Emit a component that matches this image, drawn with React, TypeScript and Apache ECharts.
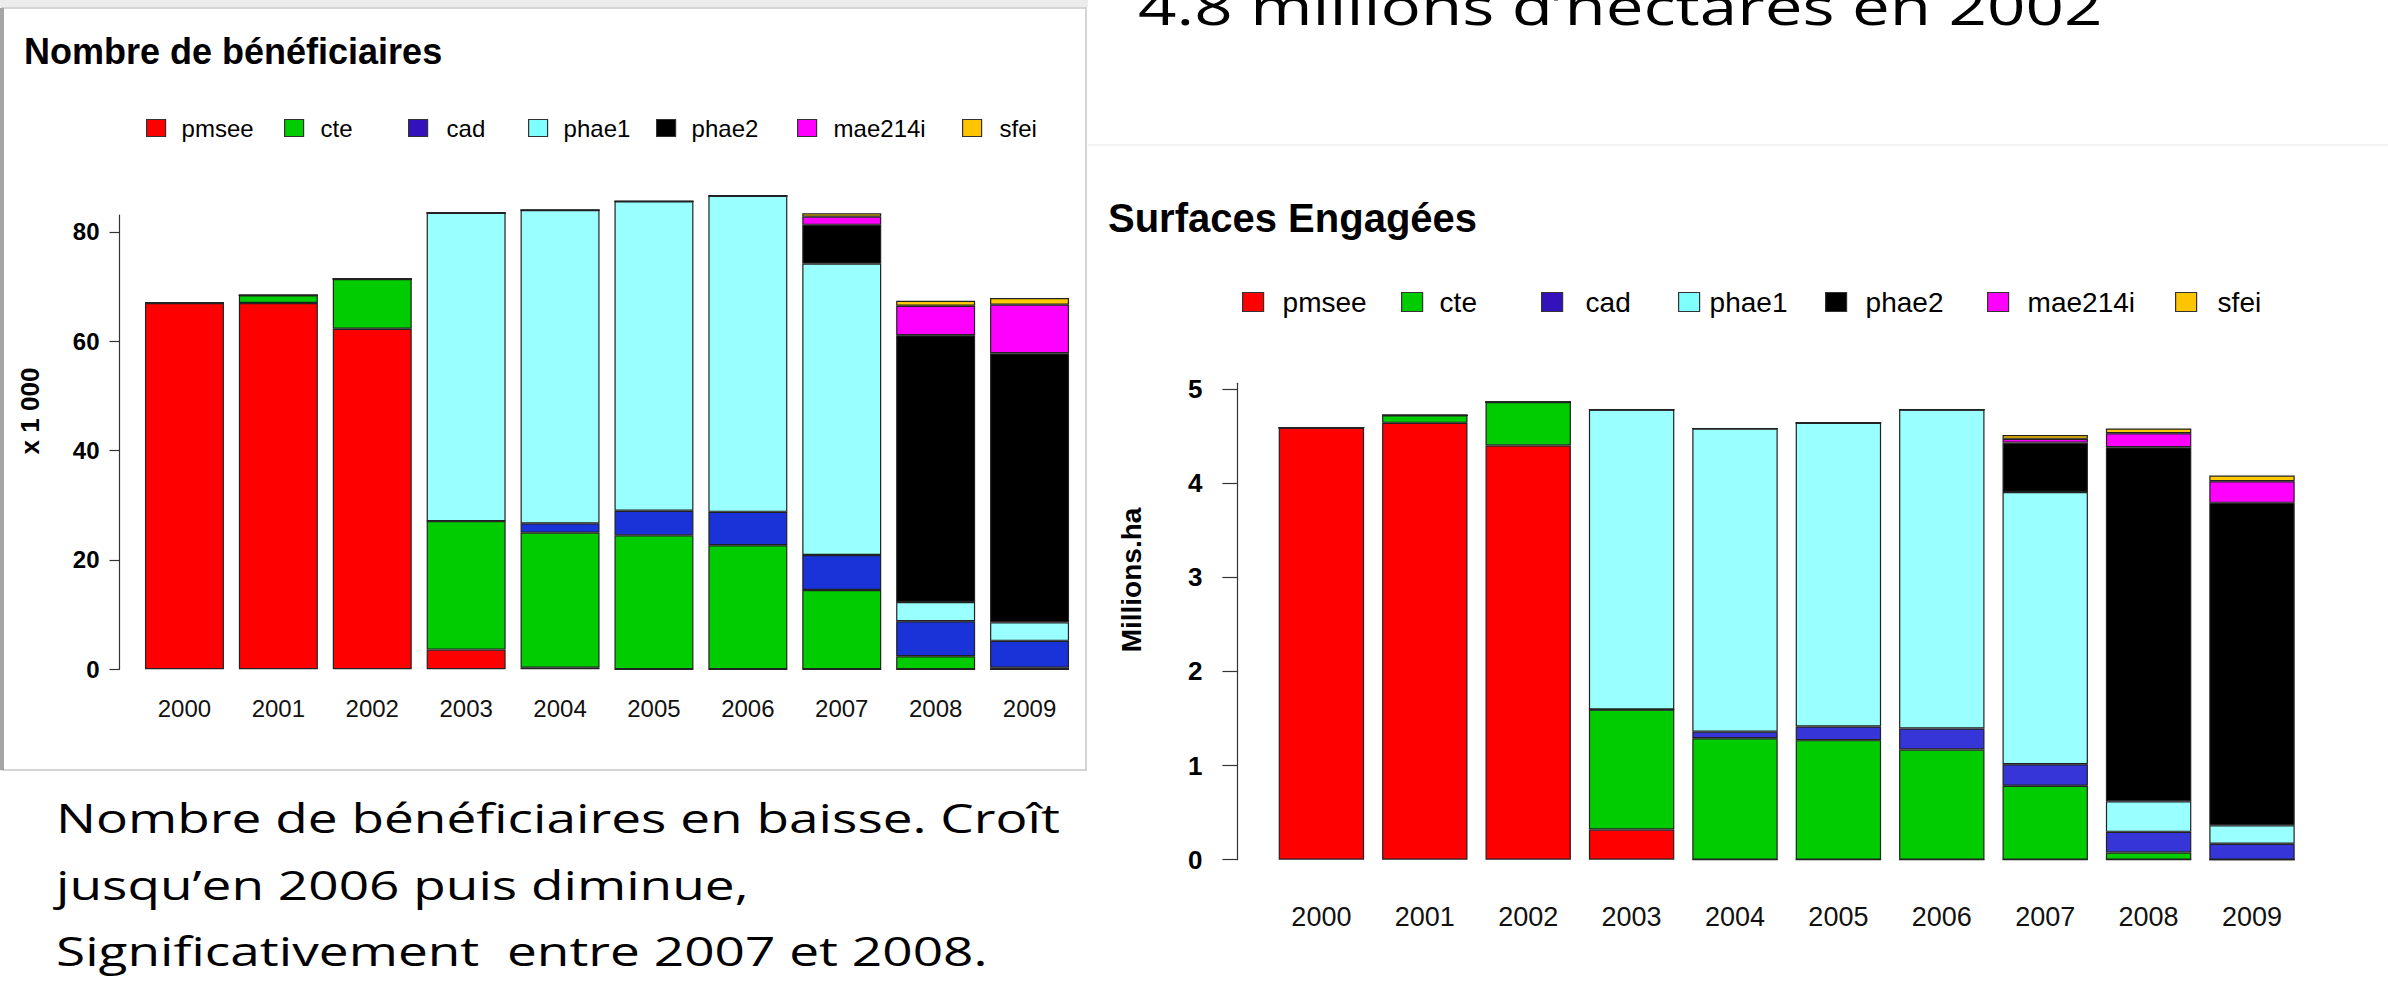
import React, { useEffect, useRef } from 'react';
import * as echarts from 'echarts';

// ---------- DATA ----------
const years = ['2000', '2001', '2002', '2003', '2004', '2005', '2006', '2007', '2008', '2009'];
const schemes = ['pmsee', 'cte', 'cad', 'phae1', 'phae2', 'mae214i', 'sfei'];

// Nombre de bénéficiaires (x 1 000)
const benefPmsee = [67.0, 67.0, 62.3, 3.6, 0.3, 0, 0, 0, 0, 0];
const benefCte = [0, 1.4, 9.1, 23.5, 24.7, 24.5, 22.7, 14.5, 2.4, 0.3];
const benefCad = [0, 0, 0, 0, 1.7, 4.5, 6.1, 6.4, 6.4, 4.9];
const benefPhae1 = [0, 0, 0, 56.4, 57.3, 56.6, 57.8, 53.3, 3.5, 3.4];
const benefPhae2 = [0, 0, 0, 0, 0, 0, 0, 7.1, 48.8, 49.2];
const benefMae214i = [0, 0, 0, 0, 0, 0, 0, 1.5, 5.4, 8.9];
const benefSfei = [0, 0, 0, 0, 0, 0, 0, 0.6, 0.9, 1.2];

// Surfaces engagées (Millions.ha)
const surfPmsee = [4.59, 4.64, 4.4, 0.32, 0, 0, 0, 0, 0, 0];
const surfCte = [0, 0.08, 0.46, 1.275, 1.29, 1.27, 1.17, 0.785, 0.077, 0];
const surfCad = [0, 0, 0, 0, 0.07, 0.145, 0.224, 0.229, 0.219, 0.17];
const surfPhae1 = [0, 0, 0, 3.185, 3.22, 3.225, 3.386, 2.891, 0.324, 0.196];
const surfPhae2 = [0, 0, 0, 0, 0, 0, 0, 0.525, 3.76, 3.424];
const surfMae214i = [0, 0, 0, 0, 0, 0, 0, 0.04, 0.15, 0.23];
const surfSfei = [0, 0, 0, 0, 0, 0, 0, 0.04, 0.05, 0.06];

const benefTicks = [0, 20, 40, 60, 80];
const surfTicks = [0, 1, 2, 3, 4, 5];

const heading = "4.8 millions d\u2019hectares en 2002";
const paragraph = [
  'Nombre de b\u00e9n\u00e9ficiaires en baisse. Cro\u00eet',
  'jusqu\u2019en 2006 puis diminue,',
  'Significativement  entre 2007 et 2008.',
];

// ---------- STYLE ----------
const leftColors = ['#ff0000', '#00cc00', '#1a33d9', '#99ffff', '#000000', '#ff00ff', '#ffc800'];
const rightColors = ['#ff0000', '#00cc00', '#3535d8', '#99ffff', '#000000', '#ff00ff', '#ffc800'];
const legendColors = ['#ff0000', '#00cc00', '#3311bb', '#80ffff', '#000000', '#ff00ff', '#ffc400'];

const leftLegendX = [146, 284, 408, 528, 656, 797, 962];
const leftLegendPad = [11, 12, 14, 11, 11, 12, 13];
const rightLegendX = [1242, 1401, 1541, 1678, 1825, 1987, 2175];
const rightLegendPad = [14, 12, 18, 5, 14, 14, 16];

const SANS = '"Liberation Sans", Arial, sans-serif';
const SLIDE = '"Open Sans", "Noto Sans", sans-serif';

export default function App() {
  const ref = useRef<HTMLDivElement>(null);

  useEffect(() => {
    const chart = echarts.init(ref.current as HTMLDivElement, null, { renderer: 'svg' });

    const benefData = [benefPmsee, benefCte, benefCad, benefPhae1, benefPhae2, benefMae214i, benefSfei];
    const surfData = [surfPmsee, surfCte, surfCad, surfPhae1, surfPhae2, surfMae214i, surfSfei];

    const series: any[] = [];
    schemes.forEach((name, i) => {
      series.push({
        type: 'bar',
        name,
        xAxisIndex: 0,
        yAxisIndex: 0,
        stack: 'benef',
        data: benefData[i],
        barCategoryGap: '15.9%',
        clip: false,
        itemStyle: { color: leftColors[i], borderColor: '#222', borderWidth: 1.2 },
        emphasis: { disabled: true },
      });
    });
    schemes.forEach((name, i) => {
      series.push({
        type: 'bar',
        name,
        xAxisIndex: 1,
        yAxisIndex: 1,
        stack: 'surf',
        data: surfData[i],
        barCategoryGap: '17.4%',
        clip: false,
        itemStyle: { color: rightColors[i], borderColor: '#222', borderWidth: 1.2 },
        emphasis: { disabled: true },
      });
    });

    const makeLegend = (i: number, left: number, top: number, w: number, h: number, fs: number, pad: number) => ({
      data: [{ name: schemes[i], icon: 'rect', itemStyle: { color: legendColors[i], borderColor: '#333', borderWidth: 1.2 } }],
      left,
      top,
      padding: 0,
      itemWidth: w,
      itemHeight: h,
      selectedMode: false,
      textStyle: { fontSize: fs, fontFamily: SANS, color: '#000', padding: [0, 0, 0, pad] },
    });

    const legends: any[] = [];
    schemes.forEach((_, i) => legends.push(makeLegend(i, leftLegendX[i], 116, 19, 17, 24, leftLegendPad[i])));
    schemes.forEach((_, i) => legends.push(makeLegend(i, rightLegendX[i], 288, 21, 19, 28, rightLegendPad[i])));

    const slideText = (text: string, x: number, y: number, size: number, sx: number) => ({
      type: 'text',
      x,
      y,
      scaleX: sx,
      style: { text, fill: '#000', fontSize: size, fontFamily: SLIDE, align: 'left', verticalAlign: 'middle' },
    });

    const option: any = {
      animation: false,
      backgroundColor: '#ffffff',
      grid: [
        { left: 137.5, top: 215, width: 939, height: 454.3 },
        { left: 1269.7, top: 383.3, width: 1034, height: 476.4 },
      ],
      xAxis: [
        {
          type: 'category',
          gridIndex: 0,
          data: years,
          axisLine: { show: false },
          axisTick: { show: false },
          axisLabel: { fontSize: 24, fontFamily: SANS, color: '#111', margin: 27 },
        },
        {
          type: 'category',
          gridIndex: 1,
          data: years,
          axisLine: { show: false },
          axisTick: { show: false },
          axisLabel: { fontSize: 27, fontFamily: SANS, color: '#111', margin: 44 },
        },
      ],
      yAxis: [
        {
          type: 'value',
          gridIndex: 0,
          min: 0,
          max: 83.1,
          interval: 20,
          offset: 18,
          splitLine: { show: false },
          axisLine: { show: true, lineStyle: { color: '#333', width: 1.2 } },
          axisTick: { show: true, length: 10, customValues: benefTicks, lineStyle: { color: '#333', width: 1.2 } },
          axisLabel: { customValues: benefTicks, fontSize: 24, fontWeight: 'bold', fontFamily: SANS, color: '#000', margin: 20 },
        },
        {
          type: 'value',
          gridIndex: 1,
          min: 0,
          max: 5.06,
          interval: 1,
          offset: 32.3,
          splitLine: { show: false },
          axisLine: { show: true, lineStyle: { color: '#333', width: 1.2 } },
          axisTick: { show: true, length: 15, customValues: surfTicks, lineStyle: { color: '#333', width: 1.2 } },
          axisLabel: { customValues: surfTicks, fontSize: 26, fontWeight: 'bold', fontFamily: SANS, color: '#000', margin: 35 },
        },
      ],
      legend: legends,
      graphic: [
        // left panel frame
        {
          type: 'rect',
          shape: { x: 2, y: 8, width: 1084, height: 762 },
          style: { fill: 'none', stroke: '#d4d4d4', lineWidth: 2 },
          z: -1,
        },
        {
          type: 'line',
          shape: { x1: 2, y1: 8, x2: 2, y2: 770 },
          style: { stroke: '#a6a6a6', lineWidth: 4 },
          z: -1,
        },
        {
          type: 'rect',
          shape: { x: 0, y: 0, width: 1088, height: 7 },
          style: { fill: '#ececec' },
          z: -1,
        },
        // right panel faint frame
        {
          type: 'line',
          shape: { x1: 1088, y1: 145, x2: 2388, y2: 145 },
          style: { stroke: '#f3f3f3', lineWidth: 2 },
          z: -1,
        },
        // chart titles
        {
          type: 'text',
          x: 24,
          y: 51,
          style: { text: 'Nombre de b\u00e9n\u00e9ficiaires', fill: '#000', fontSize: 36, fontWeight: 'bold', fontFamily: SANS, align: 'left', verticalAlign: 'middle' },
        },
        {
          type: 'text',
          x: 1108,
          y: 218,
          style: { text: 'Surfaces Engag\u00e9es', fill: '#000', fontSize: 40, fontWeight: 'bold', fontFamily: SANS, align: 'left', verticalAlign: 'middle' },
        },
        // axis names
        {
          type: 'text',
          x: 30,
          y: 411,
          rotation: Math.PI / 2,
          style: { text: 'x 1 000', fill: '#000', fontSize: 26, fontWeight: 'bold', fontFamily: SANS, align: 'center', verticalAlign: 'middle' },
        },
        {
          type: 'text',
          x: 1131,
          y: 580,
          rotation: Math.PI / 2,
          style: { text: 'Millions.ha', fill: '#000', fontSize: 28, fontWeight: 'bold', fontFamily: SANS, align: 'center', verticalAlign: 'middle' },
        },
        // slide texts
        slideText(heading, 1138, 5, 51, 1.32),
        slideText(paragraph[0], 56, 818, 40, 1.33),
        slideText(paragraph[1], 56, 885, 40, 1.33),
        slideText(paragraph[2], 56, 951, 40, 1.33),
      ],
      series,
    };

    chart.setOption(option);
    return () => chart.dispose();
  }, []);

  return (
    <div
      ref={ref}
      style={{ position: 'fixed', left: 0, top: 0, width: 2388, height: 1000, background: '#ffffff' }}
    />
  );
}
